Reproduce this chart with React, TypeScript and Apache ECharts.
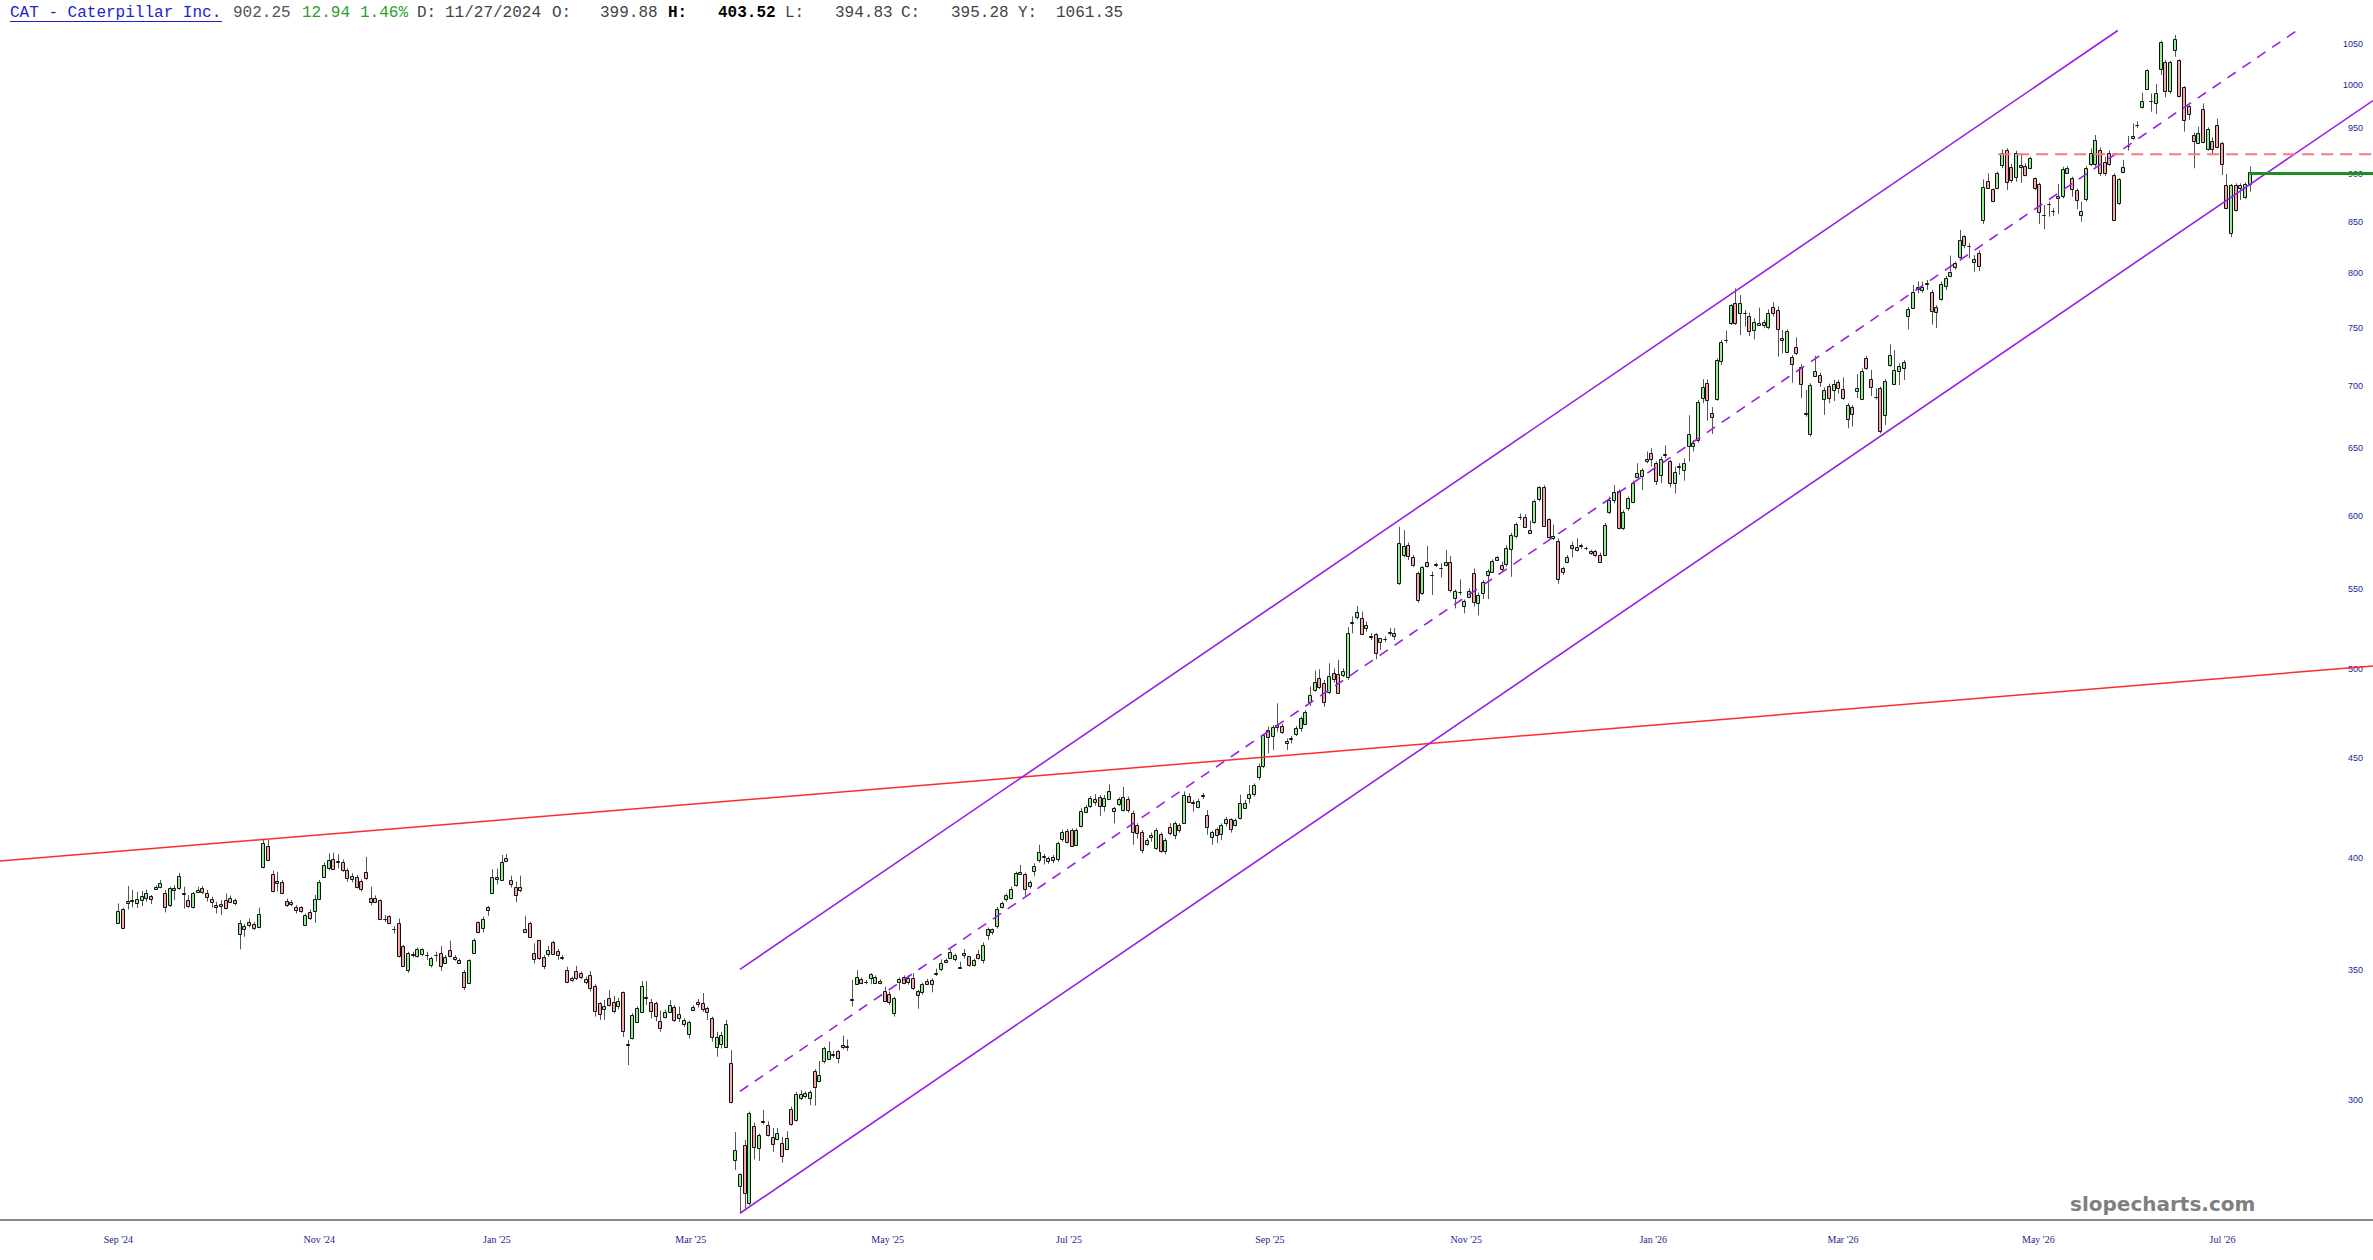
import React, { useEffect, useRef } from "react";
import * as echarts from "echarts";

// ---- OHLC candles (open, high, low, close), one per trading day ----
const candles: number[][] = [
  [370.0, 378.8, 369.7, 375.5], [376.5, 376.9, 367.8, 368.2], [379.3, 386.7, 376.1, 380.0], [380.0, 385.0, 377.0, 380.3],
  [378.9, 384.0, 376.8, 380.8], [380.3, 384.5, 377.6, 382.1], [381.5, 385.1, 379.6, 383.6], [382.0, 382.6, 378.5, 380.6],
  [385.5, 387.0, 385.0, 386.2], [386.2, 389.5, 385.7, 388.0], [383.7, 384.9, 374.8, 377.5], [378.0, 386.4, 377.2, 385.6],
  [384.9, 387.0, 380.3, 385.9], [385.6, 392.8, 384.9, 391.2], [383.3, 386.4, 376.5, 383.0], [380.3, 382.6, 376.9, 377.5],
  [376.9, 384.0, 376.5, 383.3], [384.0, 386.4, 383.6, 384.9], [385.6, 386.7, 383.0, 383.6], [383.3, 384.9, 379.6, 381.5],
  [380.8, 381.8, 376.9, 379.6], [378.0, 379.6, 374.3, 376.9], [378.6, 380.3, 373.6, 377.5], [380.5, 383.3, 376.1, 376.9],
  [379.6, 382.4, 379.0, 381.3], [380.3, 381.0, 378.0, 378.9], [365.3, 371.4, 358.7, 370.2], [368.8, 369.7, 364.1, 367.6],
  [369.3, 372.1, 368.2, 370.6], [369.5, 370.6, 367.0, 367.8], [368.5, 376.9, 367.8, 374.3], [395.7, 408.7, 394.9, 407.1],
  [405.6, 408.4, 398.3, 398.8], [392.2, 393.8, 383.8, 384.2], [388.2, 393.3, 384.2, 388.9], [388.7, 389.5, 383.0, 383.6],
  [379.9, 381.0, 377.2, 378.0], [379.4, 380.3, 377.5, 378.3], [377.1, 378.0, 374.3, 375.6], [377.0, 377.6, 374.6, 375.4],
  [369.3, 374.3, 368.8, 373.6], [375.0, 376.1, 371.4, 372.5], [375.0, 382.6, 370.2, 380.6], [381.0, 389.5, 380.6, 388.7],
  [390.7, 397.7, 390.3, 396.5], [394.9, 402.0, 394.1, 398.8], [399.1, 402.3, 394.1, 394.4], [397.7, 401.5, 394.9, 398.2],
  [398.0, 399.1, 393.3, 394.1], [394.1, 394.9, 388.7, 390.3], [389.8, 392.6, 388.4, 391.2], [391.0, 391.8, 385.6, 386.2],
  [389.2, 389.8, 384.2, 385.6], [393.3, 400.3, 389.5, 390.3], [381.3, 386.4, 378.0, 379.3], [381.3, 382.4, 379.0, 379.6],
  [380.3, 380.6, 371.4, 371.8], [371.8, 373.6, 370.6, 371.6], [373.1, 373.6, 369.9, 370.2], [367.5, 368.8, 365.6, 367.3],
  [369.9, 372.1, 355.3, 355.6], [360.2, 360.6, 351.4, 351.8], [350.0, 357.7, 348.9, 357.0], [356.8, 357.7, 355.3, 356.5],
  [356.1, 359.5, 355.3, 359.0], [356.7, 359.1, 355.8, 358.7], [356.2, 357.7, 354.2, 356.0], [352.1, 355.6, 351.1, 354.9],
  [356.3, 357.7, 353.6, 356.5], [357.0, 360.2, 349.6, 351.4], [353.2, 356.3, 352.5, 355.6], [358.4, 362.4, 355.3, 355.8],
  [355.5, 356.3, 353.9, 354.7], [354.2, 354.9, 352.8, 353.1], [349.3, 350.0, 341.8, 343.2], [344.8, 354.5, 344.5, 354.2],
  [357.3, 363.4, 356.7, 362.9], [370.4, 370.8, 365.6, 366.0], [367.7, 372.9, 366.0, 371.8], [375.8, 377.6, 373.3, 377.2],
  [383.4, 394.5, 382.9, 390.7], [391.0, 394.8, 387.5, 389.9], [389.8, 401.2, 389.5, 398.1], [398.1, 401.7, 397.8, 399.7],
  [389.5, 391.5, 386.0, 387.5], [386.2, 388.7, 379.3, 382.6], [384.8, 391.5, 383.9, 386.2], [366.5, 373.3, 366.0, 367.7],
  [370.2, 370.7, 363.9, 364.2], [357.0, 361.3, 352.8, 354.6], [362.6, 362.9, 354.2, 354.9], [355.6, 356.3, 350.4, 351.8],
  [356.6, 360.2, 355.6, 358.3], [362.0, 362.3, 356.6, 357.0], [358.1, 358.9, 354.2, 356.3], [355.3, 356.3, 354.2, 355.0],
  [350.0, 351.4, 344.6, 345.2], [346.2, 347.3, 345.2, 346.9], [349.6, 351.8, 345.9, 346.6], [348.7, 349.4, 346.3, 347.0],
  [345.2, 347.3, 344.2, 346.3], [348.0, 349.6, 341.2, 342.5], [343.6, 344.2, 331.2, 333.4], [336.5, 336.9, 329.9, 332.1],
  [334.5, 337.8, 329.9, 335.5], [338.7, 341.8, 335.2, 336.0], [336.8, 339.5, 332.5, 333.4], [335.4, 338.7, 334.2, 337.4],
  [340.9, 341.2, 323.3, 325.5], [320.8, 322.2, 312.7, 320.4], [322.7, 332.5, 322.3, 331.8], [329.1, 335.2, 328.8, 334.5],
  [333.2, 345.5, 332.8, 343.6], [338.7, 345.5, 335.8, 339.0], [337.1, 338.2, 330.5, 333.4], [336.5, 337.1, 329.4, 331.5],
  [329.5, 333.6, 325.3, 326.9], [331.1, 333.9, 330.5, 332.9], [333.4, 337.8, 333.2, 336.0], [335.2, 335.8, 329.1, 330.2],
  [330.5, 335.2, 329.1, 332.2], [328.2, 330.5, 327.2, 329.8], [324.7, 329.5, 322.7, 329.2], [334.1, 335.7, 333.4, 335.1],
  [336.8, 338.2, 334.8, 336.0], [336.7, 340.6, 333.1, 334.5], [334.5, 335.2, 329.9, 332.9], [330.5, 331.2, 321.5, 323.2],
  [319.5, 325.3, 315.8, 323.3], [320.4, 325.3, 318.9, 324.0], [319.5, 329.9, 319.1, 328.2], [313.3, 318.3, 298.8, 299.3],
  [279.4, 288.8, 276.1, 282.7], [270.7, 275.0, 262.2, 274.7], [284.4, 286.1, 263.2, 268.6], [265.4, 295.9, 264.9, 295.4],
  [290.9, 292.0, 279.6, 283.8], [283.3, 288.3, 279.1, 287.8], [292.7, 296.5, 291.5, 292.3], [291.1, 292.5, 287.3, 287.8],
  [287.0, 290.2, 282.1, 284.6], [286.4, 290.2, 286.1, 288.6], [285.0, 287.2, 278.5, 280.6], [283.3, 289.1, 282.7, 286.9],
  [296.9, 297.7, 291.0, 291.5], [293.0, 302.9, 292.4, 302.3], [300.6, 303.5, 300.0, 302.0], [301.5, 303.1, 300.6, 302.6],
  [300.6, 303.5, 298.2, 302.9], [310.5, 311.2, 298.0, 304.8], [306.9, 314.2, 306.4, 309.2], [314.2, 319.6, 313.3, 319.0],
  [314.9, 321.5, 314.6, 318.0], [316.6, 318.0, 315.4, 316.9], [318.0, 318.3, 313.3, 315.4], [320.2, 323.8, 318.7, 319.3],
  [319.6, 322.3, 318.0, 319.9], [337.5, 345.9, 335.2, 338.0], [344.5, 350.0, 343.9, 347.2], [346.3, 346.9, 344.2, 344.8],
  [345.0, 345.9, 344.2, 345.1], [346.6, 348.7, 344.2, 348.2], [344.8, 347.8, 344.2, 347.2], [345.7, 346.2, 344.2, 344.8],
  [341.6, 343.2, 337.2, 337.5], [340.2, 341.2, 335.8, 337.1], [332.5, 339.1, 331.2, 338.5], [345.0, 346.9, 341.8, 346.2],
  [347.2, 347.8, 344.2, 344.8], [344.8, 347.8, 344.0, 346.6], [346.6, 348.7, 341.8, 342.5], [341.6, 341.8, 334.3, 339.9],
  [340.9, 344.8, 339.9, 344.1], [345.7, 346.4, 343.9, 344.5], [344.2, 346.6, 340.9, 345.9], [348.2, 350.6, 347.6, 348.6],
  [350.3, 354.5, 349.6, 352.9], [354.2, 354.8, 352.9, 353.3], [355.3, 358.7, 354.8, 357.7], [354.5, 356.9, 353.6, 356.3],
  [351.4, 353.5, 350.6, 351.1], [356.0, 358.9, 354.8, 357.0], [355.7, 355.8, 351.4, 352.0], [352.2, 354.8, 351.5, 354.2],
  [356.9, 358.4, 354.4, 355.0], [354.4, 361.7, 352.7, 360.7], [364.6, 368.1, 362.7, 367.3], [367.3, 367.7, 364.9, 365.9],
  [368.4, 377.3, 367.7, 376.1], [377.3, 379.6, 376.5, 379.1], [380.6, 383.3, 379.6, 382.6], [381.1, 386.4, 380.6, 385.2],
  [387.1, 393.3, 386.4, 392.6], [393.0, 396.5, 392.0, 392.3], [392.3, 392.9, 382.3, 385.6], [386.4, 389.2, 385.6, 388.4],
  [393.8, 397.3, 391.2, 396.2], [398.5, 406.1, 397.6, 402.4], [400.6, 401.7, 396.7, 399.9], [398.5, 400.4, 397.0, 399.7],
  [400.4, 401.2, 397.3, 398.8], [399.1, 407.6, 398.0, 406.8], [409.1, 413.5, 407.6, 412.5], [413.0, 413.8, 406.8, 407.6],
  [413.5, 414.1, 405.3, 405.6], [406.1, 414.1, 405.6, 413.5], [415.2, 424.1, 414.5, 422.9], [422.4, 425.7, 421.6, 424.9],
  [424.9, 430.3, 424.1, 429.1], [427.1, 431.3, 425.4, 428.8], [429.6, 430.8, 420.3, 424.9], [425.2, 430.8, 422.4, 429.1],
  [429.1, 436.3, 428.6, 433.1], [422.4, 424.9, 416.6, 424.1], [426.2, 429.6, 425.2, 428.8], [423.2, 435.0, 422.4, 429.6],
  [428.6, 430.0, 421.9, 422.9], [421.9, 422.9, 406.1, 412.5], [415.7, 416.6, 409.1, 412.0], [412.5, 413.3, 402.0, 403.9],
  [406.4, 409.3, 405.6, 408.4], [409.7, 412.0, 407.6, 410.9], [405.0, 414.1, 403.6, 413.5], [411.3, 412.0, 402.3, 403.3],
  [402.9, 409.3, 401.5, 408.4], [415.0, 416.6, 410.7, 412.0], [410.7, 417.5, 408.8, 416.6], [415.7, 416.6, 412.0, 413.3],
  [416.9, 432.6, 416.6, 430.9], [430.3, 431.8, 426.6, 427.5], [427.2, 428.3, 422.4, 426.9], [424.9, 428.8, 424.1, 428.0],
  [430.3, 431.8, 428.8, 430.6], [420.7, 423.2, 411.0, 414.8], [409.7, 413.0, 406.1, 412.2], [413.6, 414.5, 406.9, 410.7],
  [411.2, 416.6, 408.4, 415.7], [416.3, 419.8, 415.0, 418.5], [418.5, 419.0, 412.0, 413.6], [415.6, 419.0, 415.0, 418.2],
  [419.0, 430.9, 418.5, 426.6], [424.6, 428.3, 423.7, 426.9], [429.2, 436.0, 426.6, 431.4], [431.4, 436.8, 430.0, 436.0],
  [440.2, 447.1, 438.5, 446.0], [446.0, 463.1, 444.7, 462.5], [465.3, 467.2, 452.7, 461.6], [462.0, 468.1, 454.4, 467.2],
  [468.1, 480.3, 464.4, 466.8], [467.6, 468.7, 463.1, 464.4], [459.4, 460.7, 454.4, 458.3], [460.7, 462.0, 458.0, 461.0],
  [463.1, 467.6, 462.0, 466.2], [466.2, 472.8, 464.4, 471.8], [468.7, 476.5, 468.1, 475.6], [481.2, 490.0, 478.7, 485.1],
  [487.6, 499.3, 487.0, 492.5], [494.8, 500.1, 488.4, 489.8], [492.2, 493.8, 478.3, 481.2], [486.6, 503.7, 485.5, 496.2],
  [498.1, 500.7, 492.2, 494.8], [497.4, 505.7, 486.2, 486.6], [496.8, 500.7, 495.4, 499.3], [495.4, 525.7, 493.8, 521.9],
  [528.6, 532.5, 521.9, 529.0], [532.0, 539.1, 530.6, 535.2], [531.3, 535.5, 520.9, 521.5], [525.1, 529.2, 523.0, 527.2],
  [520.5, 522.0, 517.8, 520.1], [521.3, 522.0, 506.1, 509.7], [516.2, 519.0, 511.7, 518.7], [518.6, 520.0, 516.5, 518.4],
  [522.4, 525.1, 520.3, 522.8], [522.0, 525.1, 517.8, 520.1], [553.4, 592.2, 552.7, 580.6], [572.7, 589.8, 571.1, 579.0],
  [579.6, 581.3, 569.3, 572.0], [571.6, 572.7, 564.8, 566.0], [560.4, 561.5, 541.2, 542.9], [547.3, 565.3, 546.2, 564.3],
  [568.2, 578.9, 564.3, 565.3], [559.0, 561.5, 546.2, 558.8], [565.6, 567.5, 564.5, 566.3], [563.8, 567.2, 557.7, 563.5],
  [565.9, 576.2, 565.0, 568.2], [568.2, 572.0, 547.8, 549.4], [544.6, 549.8, 537.6, 549.0], [547.8, 556.4, 546.2, 547.6],
  [539.4, 543.3, 534.4, 542.5], [545.3, 550.5, 544.3, 549.0], [560.8, 563.6, 538.7, 541.8], [541.4, 547.8, 533.2, 546.4],
  [547.8, 555.9, 543.6, 554.8], [559.8, 563.1, 543.6, 562.2], [561.7, 569.7, 560.6, 568.9], [569.3, 572.0, 568.9, 571.1],
  [566.0, 568.2, 561.5, 563.1], [566.6, 579.4, 564.8, 577.7], [577.0, 588.0, 558.1, 586.4], [585.8, 595.1, 584.1, 594.0],
  [598.5, 601.6, 597.0, 598.8], [599.3, 601.1, 591.3, 592.0], [590.2, 596.5, 587.5, 588.2], [595.8, 611.7, 594.3, 610.5],
  [611.4, 621.5, 610.3, 620.5], [621.0, 622.2, 592.0, 592.9], [597.5, 598.2, 584.1, 584.9], [584.4, 593.7, 583.0, 586.0],
  [582.5, 584.1, 553.4, 557.1], [563.7, 564.8, 559.3, 560.8], [568.2, 572.7, 567.1, 571.6], [579.6, 581.9, 571.1, 577.3],
  [576.2, 584.1, 575.1, 578.0], [578.8, 580.5, 577.0, 579.4], [577.5, 578.5, 576.0, 577.3], [575.5, 576.2, 572.9, 574.0],
  [575.1, 576.2, 571.3, 572.2], [572.7, 574.3, 567.6, 568.2], [572.7, 595.0, 572.3, 593.5], [602.9, 613.8, 601.2, 611.4],
  [611.4, 622.3, 609.0, 617.4], [618.1, 619.1, 590.4, 591.8], [591.8, 604.1, 590.0, 602.9], [605.3, 613.8, 603.6, 612.6],
  [610.2, 625.5, 609.0, 624.0], [628.5, 638.6, 627.3, 631.5], [629.0, 634.8, 618.6, 633.5], [639.9, 647.5, 638.6, 641.6],
  [646.2, 650.1, 636.0, 641.6], [638.6, 639.9, 622.3, 624.8], [629.8, 643.6, 623.6, 641.6], [644.9, 652.2, 642.3, 645.3],
  [639.9, 641.1, 620.6, 623.1], [624.0, 636.0, 616.1, 632.3], [636.5, 638.6, 629.8, 635.7], [634.0, 642.3, 625.5, 639.0],
  [651.9, 676.0, 639.9, 661.2], [651.3, 656.5, 647.5, 654.0], [656.5, 688.4, 654.4, 687.0], [689.8, 705.5, 685.7, 698.7],
  [702.6, 705.5, 671.7, 688.4], [677.5, 682.6, 661.2, 674.4], [689.0, 723.1, 687.8, 721.7], [721.1, 739.1, 717.5, 737.6],
  [738.3, 747.3, 736.2, 738.7], [753.9, 771.3, 752.4, 770.4], [771.9, 785.8, 752.4, 753.9], [762.9, 779.6, 743.4, 772.2],
  [762.9, 765.9, 750.9, 762.7], [760.5, 763.5, 742.6, 747.3], [747.9, 758.4, 739.7, 755.4], [753.0, 768.0, 752.0, 754.5],
  [754.8, 757.0, 749.5, 752.1], [750.9, 766.5, 748.5, 763.5], [768.4, 772.8, 759.9, 762.9], [765.9, 769.0, 724.6, 748.5],
  [740.6, 747.9, 727.5, 738.5], [729.0, 748.5, 727.5, 747.3], [724.6, 726.0, 702.7, 718.3], [732.7, 741.5, 726.0, 727.5],
  [716.1, 718.3, 689.8, 702.1], [678.0, 696.5, 674.8, 676.8], [661.2, 702.1, 659.1, 700.7], [708.2, 725.3, 707.7, 712.7],
  [709.3, 711.0, 699.3, 703.5], [689.0, 698.7, 676.3, 696.5], [699.9, 701.8, 685.7, 689.8], [696.0, 704.9, 687.5, 701.3],
  [703.2, 704.9, 693.7, 698.2], [697.1, 707.1, 688.4, 689.8], [672.8, 685.7, 665.6, 684.3], [682.3, 684.3, 667.0, 677.0],
  [695.6, 709.8, 689.8, 698.4], [689.8, 714.7, 689.0, 712.7], [723.1, 725.3, 713.3, 714.7], [705.5, 713.3, 691.5, 698.7],
  [691.0, 697.9, 688.7, 690.7], [697.9, 699.3, 661.6, 663.0], [676.3, 705.5, 668.3, 704.3], [717.5, 735.4, 716.1, 725.9],
  [701.5, 730.4, 700.7, 713.3], [712.7, 719.0, 700.7, 716.9], [715.5, 721.7, 704.9, 720.3], [760.5, 768.9, 748.5, 766.5],
  [768.4, 789.0, 767.6, 782.8], [784.9, 792.2, 781.2, 786.8], [784.3, 792.2, 781.8, 787.4], [791.0, 793.7, 784.3, 789.9],
  [782.8, 784.3, 752.7, 765.6], [763.5, 770.4, 749.7, 768.4], [775.6, 792.2, 774.4, 789.6], [788.0, 797.5, 784.3, 795.3],
  [797.5, 817.0, 796.2, 801.6], [809.5, 811.2, 803.7, 805.6], [815.7, 842.2, 814.1, 832.2], [836.1, 837.1, 824.1, 827.3],
  [826.4, 828.9, 814.1, 826.1], [811.2, 817.4, 801.6, 814.1], [819.0, 822.0, 802.0, 806.2], [852.9, 894.3, 848.2, 886.5],
  [893.0, 900.7, 884.7, 885.8], [883.7, 884.7, 870.3, 870.9], [884.7, 902.5, 883.7, 900.7], [909.6, 926.7, 906.1, 923.0],
  [926.0, 927.8, 883.0, 891.9], [907.9, 910.7, 890.8, 893.6], [897.1, 925.3, 891.9, 923.0], [909.6, 920.5, 890.8, 907.9],
  [908.6, 911.4, 897.4, 899.0], [906.1, 918.7, 905.0, 916.8], [895.4, 896.4, 883.0, 884.7], [889.4, 890.8, 848.2, 860.7],
  [857.3, 867.5, 842.9, 857.0], [868.6, 871.0, 855.5, 868.2], [861.7, 864.1, 856.2, 861.4], [874.3, 889.4, 858.4, 876.7],
  [876.0, 907.9, 874.3, 905.0], [901.4, 908.6, 900.0, 906.8], [895.4, 897.1, 876.0, 883.7], [883.0, 884.7, 863.1, 872.6],
  [857.3, 871.0, 850.5, 861.7], [873.3, 908.6, 870.9, 906.1], [910.7, 927.8, 908.6, 922.3], [910.7, 942.6, 907.9, 937.0],
  [926.0, 929.0, 897.8, 900.7], [913.2, 918.7, 898.0, 901.4], [923.0, 925.3, 908.6, 911.4], [898.9, 900.7, 851.5, 852.2],
  [869.3, 895.4, 867.5, 894.3], [902.2, 915.0, 900.7, 907.2], [930.3, 941.5, 925.3, 930.8], [938.4, 955.8, 937.4, 941.1],
  [953.1, 957.9, 950.6, 953.5], [975.4, 991.0, 972.6, 981.8], [995.0, 1019.0, 994.2, 1018.2], [981.4, 990.2, 969.1, 981.8],
  [979.1, 1001.3, 966.3, 990.2], [1020.2, 1054.3, 1012.1, 1053.0], [1028.3, 1030.3, 985.7, 993.4], [993.8, 1029.5, 989.8, 1028.3],
  [1041.8, 1061.35, 1034.4, 1056.0], [1030.3, 1031.1, 985.7, 987.2], [997.4, 998.9, 946.4, 959.6], [975.6, 976.8, 959.6, 966.1],
  [942.6, 945.3, 906.1, 936.3], [933.3, 951.9, 932.6, 944.4], [971.8, 978.7, 933.3, 934.1], [926.7, 951.1, 925.3, 948.9],
  [936.3, 940.0, 921.6, 927.8], [954.3, 961.1, 927.8, 929.6], [934.1, 935.2, 898.9, 910.7], [888.3, 900.0, 863.1, 864.1],
  [838.9, 889.4, 835.0, 888.3], [888.3, 890.1, 860.7, 862.4], [885.1, 890.1, 872.6, 888.3], [875.9, 891.0, 873.9, 889.3],
  [889.3, 908.0, 881.2, 902.25],
];

// ---- axis ticks ----
const yTickValues = [300, 350, 400, 450, 500, 550, 600, 650, 700, 750, 800, 850, 900, 950, 1000, 1050];
const monthTickIdx = [0, 43, 81, 122.5, 164.6, 203.4, 246.4, 288.4, 328.4, 369.0, 410.8, 450.2];
const monthTickLabels = ["Sep '24", "Nov '24", "Jan '25", "Mar '25", "May '25", "Jul '25", "Sep '25", "Nov '25", "Jan '26", "Mar '26", "May '26", "Jul '26"];

// ---- axis range (bar index / price) ----
const xMin = -25.31;
const xMax = 482.4;
const yMin = 260.2;
const yMax = 1093.3;

// ---- drawn trendlines: [barIndex, price] endpoints ----
const resistanceLine = [[-25.31, 398.3], [482.4, 502.1]];
const channelUpper = [[133, 350.3], [427.8, 1067.0]];
const channelMid = [[133, 303.1], [466.1, 1066.9]];
const channelLower = [[133, 262.3], [482.4, 981.9]];
const levelDashed = [[402.2, 921.3], [482.4, 921.3]];
const levelGreen = [[456, 900.4], [482.4, 900.4]];

// ---- header ----
const headerTitle = "CAT - Caterpillar Inc.";
const headerLast = "902.25";
const headerChange = "12.94";
const headerChangePct = "1.46%";
const headerDate = "11/27/2024";
const headerOHLC = ["399.88", "403.52", "394.83", "395.28"];
const headerYearHigh = "1061.35";

const UP = "#90ee90";
const DOWN = "#f5a7a7";
const PURPLE = "#9b1fe3";

export default function App() {
  const ref = useRef<HTMLDivElement>(null);

  useEffect(() => {
    document.body.style.margin = "0";
    if (!ref.current) return;
    const chart = echarts.init(ref.current, undefined, { renderer: "svg" });

    const data = candles.map((c, i) => [i, c[0], c[1], c[2], c[3]]);

    const renderCandle = (_params: any, api: any) => {
      const i = api.value(0);
      const o = api.value(1);
      const h = api.value(2);
      const l = api.value(3);
      const c = api.value(4);
      const pO = api.coord([i, o]);
      const pC = api.coord([i, c]);
      const pH = api.coord([i, h]);
      const pL = api.coord([i, l]);
      const cx = Math.round(pO[0]);
      const bw = 3;
      const top = Math.min(pO[1], pC[1]);
      const bot = Math.max(pO[1], pC[1]);
      return {
        type: "group",
        children: [
          { type: "line", shape: { x1: cx + 0.5, y1: pH[1], x2: cx + 0.5, y2: pL[1] }, style: { stroke: "#555555", lineWidth: 1 } },
          {
            type: "rect",
            shape: { x: cx - 1.5, y: Math.round(top) + 0.5, width: bw, height: Math.max(Math.round(bot - top), 0) },
            style: { fill: c >= o ? UP : DOWN, stroke: "#111111", lineWidth: 1 },
          },
        ],
      };
    };

    const mkLine = (data: number[][], color: string, width: number, type: any, z = 5) => ({
      type: "line",
      data,
      symbol: "none",
      silent: true,
      clip: true,
      z,
      lineStyle: { color, width, type },
    });

    const mono = '"Liberation Mono", "DejaVu Sans Mono", monospace';
    const hdr = (text: string, x: number, fill: string, bold = false) => ({
      type: "text",
      x,
      y: 13,
      silent: true,
      style: {
        text,
        fill,
        font: `${bold ? "bold " : ""}16px ${mono}`,
        verticalAlign: "middle",
        align: "left",
      },
    });

    chart.setOption({
      animation: false,
      backgroundColor: "#ffffff",
      grid: { left: 0, right: 0, top: 10, bottom: 40, containLabel: false, outerBoundsMode: "none" },
      xAxis: {
        type: "value",
        min: xMin,
        max: xMax,
        axisLine: { show: true, onZero: false, lineStyle: { color: "#888888", width: 2 } },
        axisTick: { show: false },
        splitLine: { show: false },
        axisLabel: {
          customValues: monthTickIdx,
          formatter: (v: number) => {
            const k = monthTickIdx.findIndex((t) => Math.abs(t - v) < 1e-6);
            return k >= 0 ? monthTickLabels[k] : "";
          },
          color: "#1c1c8c",
          fontFamily: '"Liberation Serif", "DejaVu Serif", serif',
          fontSize: 10,
          margin: 14,
        },
      },
      yAxis: {
        type: "log",
        logBase: 10,
        min: yMin,
        max: yMax,
        position: "right",
        axisLine: { show: false, onZero: false },
        axisTick: { show: false },
        splitLine: { show: false },
        axisLabel: {
          customValues: yTickValues,
          inside: true,
          margin: 10,
          formatter: (v: number) => String(Math.round(v)),
          color: "#23239a",
          fontFamily: '"Liberation Sans", Arial, sans-serif',
          fontSize: 9,
        },
      },
      series: [
        {
          type: "custom",
          name: "CAT",
          data,
          encode: { x: 0, y: [1, 2, 3, 4] },
          renderItem: renderCandle,
          clip: true,
          z: 3,
          silent: true,
        },
        mkLine(resistanceLine, "#ff2a2a", 1.5, "solid"),
        mkLine(channelUpper, PURPLE, 1.6, "solid"),
        mkLine(channelLower, PURPLE, 1.6, "solid"),
        mkLine(channelMid, PURPLE, 1.6, [10, 8]),
        mkLine(levelDashed, "#f47c7c", 2, [12, 7]),
        mkLine(levelGreen, "#1f8f1f", 3, "solid", 6),
      ],
      graphic: [
        hdr(headerTitle, 10, "#2222cc"),
        { type: "line", silent: true, shape: { x1: 10, y1: 21.5, x2: 222, y2: 21.5 }, style: { stroke: "#2222cc", lineWidth: 1 } },
        hdr(headerLast, 233, "#555555"),
        hdr(headerChange, 302, "#2e9e2e"),
        hdr(headerChangePct, 360, "#2e9e2e"),
        hdr("D:", 417, "#444444"),
        hdr(headerDate, 445, "#444444"),
        hdr("O:", 552, "#444444"),
        hdr(headerOHLC[0], 600, "#444444"),
        hdr("H:", 668, "#000000", true),
        hdr(headerOHLC[1], 718, "#000000", true),
        hdr("L:", 785, "#444444"),
        hdr(headerOHLC[2], 835, "#444444"),
        hdr("C:", 901, "#444444"),
        hdr(headerOHLC[3], 951, "#444444"),
        hdr("Y:", 1018, "#444444"),
        hdr(headerYearHigh, 1056, "#444444"),
        {
          type: "text",
          x: 2070,
          y: 1204,
          silent: true,
          style: {
            text: "slopecharts.com",
            fill: "#7f7f7f",
            font: 'bold 20px "DejaVu Sans", sans-serif',
            verticalAlign: "middle",
            align: "left",
          },
        },
      ],
    });

    return () => chart.dispose();
  }, []);

  return <div ref={ref} style={{ position: "fixed", left: 0, top: 0, width: "100vw", height: "100vh" }} />;
}
